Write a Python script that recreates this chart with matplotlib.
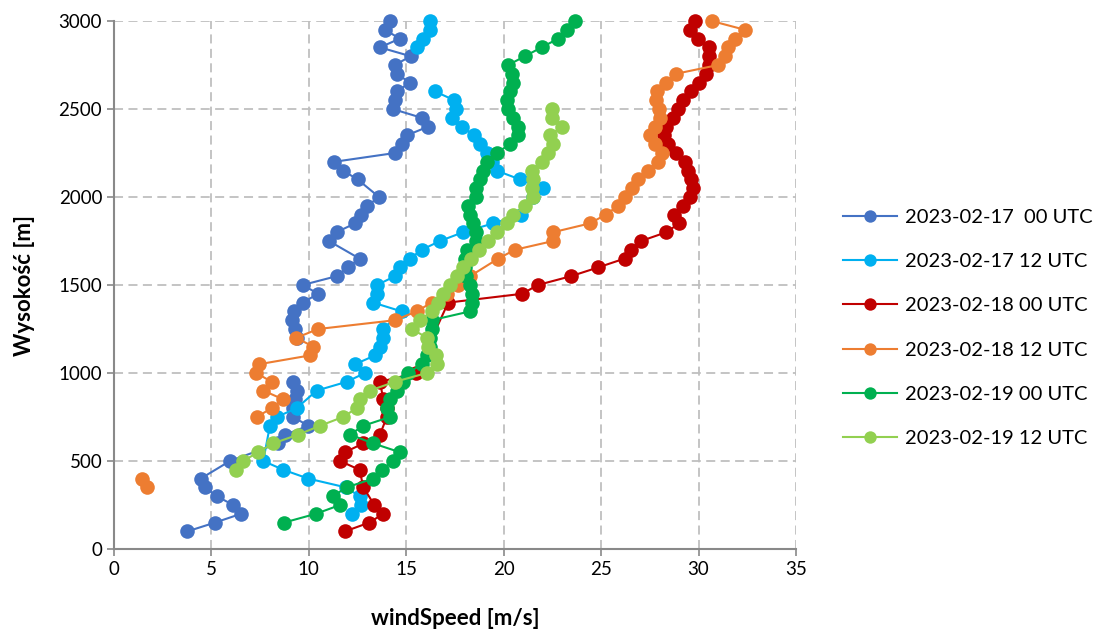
import numpy as np
import matplotlib
matplotlib.use("Agg")
import matplotlib.pyplot as plt

plt.rcParams['font.family'] = ['Lato', 'DejaVu Sans']

nan = np.nan

# Wind speed profiles: heights [m] and speeds [m/s]; NaN marks a missing level
h_17_00 = [100, 150, 200, 250, 300, 350, 400, 500, 600, 650, 700, 750, 800, 850, 900, 950,
           1100, 1200, 1250, 1300, 1350, 1400, 1450, 1500, 1550, 1600, 1650, 1750, 1800, 1850,
           1900, 1950, 2000, 2100, 2150, 2200, 2250, 2300, 2350, 2400, 2450, 2500, 2550,
           2600, 2650, 2700, 2750, 2800, 2850, 2900, 2950, 3000]
v_17_00 = [3.76, 5.18, 6.52, 6.12, 5.27, 4.67, 4.45, 5.95, 8.43, 8.8, 9.97, 9.2, 9.2, 9.29,
           9.37, 9.2, nan, 9.37, 9.29, 9.12, 9.25, 9.68, 10.48, 9.68, 11.42, 12.0, 12.6, 11.03,
           11.42, 12.37, 12.7, 13.0, 13.6, 12.5, 11.75, 11.3, 14.42, 14.76, 15.02, 16.13,
           15.79, 14.3, 14.42, 14.5, 15.19, 14.5, 14.42, 15.22, 13.65, 14.67, 13.9, 14.16]

h_17_12 = [200, 250, 300, 350, 400, 450, 500, 700, 750, 800, 900, 950, 1000, 1050, 1100,
           1150, 1200, 1250, 1350, 1400, 1450, 1500, 1550, 1600, 1650, 1700, 1750, 1800,
           1850, 1900, 2000, 2050, 2100, 2150, 2200, 2250, 2300, 2350, 2400, 2450, 2500,
           2550, 2600, 2700, 2850, 2900, 2950, 3000]
v_17_12 = [12.2, 12.7, 12.6, 11.9, 9.97, 8.69, 7.66, 8.0, 8.35, 9.37, 10.4, 11.94, 12.88,
           12.37, 13.4, 13.65, 13.82, 13.82, 14.76, 13.3, 13.48, 13.5, 14.42, 14.67, 15.19,
           15.79, 16.73, 17.92, 19.46, 20.9, 21.52, 22.03, 20.83, 19.63, 19.4, 19.12, 18.78,
           18.49, 17.84, 17.33, 17.55, 17.46, 16.47, nan, 15.53, 15.87, 16.21, 16.21]

h_18_00 = [100, 150, 200, 250, 350, 450, 500, 550, 600, 650, 750, 800, 850, 950, 1000,
           1400, 1450, 1500, 1550, 1600, 1650, 1700, 1750, 1800, 1850, 1900, 1950, 2000,
           2050, 2100, 2150, 2200, 2250, 2300, 2350, 2400, 2450, 2500, 2550, 2600, 2650,
           2700, 2750, 2800, 2850, 2900, 2950, 3000]
v_18_00 = [11.85, 13.1, 13.82, 13.36, 12.8, 12.6, 11.6, 11.85, 12.8, 13.65, 14.0, 14.0,
           13.82, 13.65, 15.5, 17.15, 20.95, 21.75, 23.45, 24.85, 26.2, 26.55, 27.05, 28.35,
           29.0, 28.75, 29.2, 29.55, 29.7, 29.6, 29.45, 29.3, 28.85, 28.45, 28.25, 28.35,
           28.7, 28.95, 29.2, 29.6, 30.0, 30.4, 30.55, 30.55, 30.55, 29.95, 29.55, 29.8]

h_18_12 = [350, 400, 500, 750, 800, 850, 900, 950, 1000, 1050, 1100, 1150, 1200, 1250,
           1300, 1350, 1400, 1450, 1500, 1550, 1650, 1700, 1750, 1800, 1850, 1900, 1950,
           2000, 2050, 2100, 2150, 2200, 2250, 2300, 2350, 2400, 2450, 2500, 2550, 2600,
           2650, 2700, 2750, 2800, 2850, 2900, 2950, 3000]
v_18_12 = [1.71, 1.42, nan, 7.32, 8.09, 8.69, 7.66, 8.09, 7.3, 7.45, 10.06, 10.22, 9.35,
           10.48, 14.42, 15.53, 16.3, 17.07, 17.67, 18.27, 19.72, 20.57, 22.54, 22.54, 24.42,
           25.24, 25.87, 26.22, 26.56, 26.9, 27.41, 27.93, 28.1, 27.76, 27.5, 27.76, 28.0,
           27.95, 27.8, 27.87, 28.35, 28.84, 31.0, 31.35, 31.52, 31.87, 32.38, 30.67]

h_19_00 = [150, 200, 250, 300, 350, 400, 450, 500, 550, 600, 650, 700, 750, 800, 850, 900,
           950, 1000, 1050, 1100, 1150, 1200, 1250, 1300, 1350, 1400, 1450, 1500, 1550, 1600,
           1650, 1700, 1750, 1800, 1850, 1900, 1950, 2000, 2050, 2100, 2150, 2200, 2250,
           2300, 2350, 2400, 2450, 2500, 2550, 2600, 2650, 2700, 2750, 2800, 2850, 2900,
           2950, 3000]
v_19_00 = [8.72, 10.36, 11.6, 11.22, 11.94, 13.3, 13.73, 14.33, 14.67, 13.3, 12.11, 12.79,
           14.16, 14.0, 14.16, 14.5, 14.84, 15.1, 15.79, 16.05, 16.21, 16.21, 16.3, 16.3,
           18.27, 18.35, 18.35, 18.27, 18.06, 18.0, 18.0, 18.1, 18.6, 18.6, 18.44, 18.27,
           18.18, 18.6, 18.6, 18.78, 18.95, 19.12, 19.63, 20.32, 20.75, 20.75, 20.49, 20.23,
           20.15, 20.32, 20.49, 20.4, 20.23, 21.09, 21.94, 22.8, 23.23, 23.65]

h_19_12 = [450, 500, 550, 600, 650, 700, 750, 800, 850, 900, 950, 1000, 1050, 1100, 1150,
           1200, 1250, 1300, 1350, 1400, 1450, 1500, 1550, 1600, 1650, 1700, 1750, 1800,
           1850, 1900, 1950, 2000, 2050, 2100, 2150, 2200, 2250, 2300, 2350, 2400, 2450, 2500]
v_19_12 = [6.26, 6.63, 7.4, 8.17, 9.46, 10.57, 11.75, 12.45, 12.62, 13.13, 14.42, 16.05,
           16.56, 16.52, 16.13, 16.08, 15.27, 15.7, 16.3, 16.64, 16.9, 17.24, 17.58, 17.89,
           18.3, 18.74, 19.2, 19.63, 20.15, 20.49, 21.09, 21.52, 21.43, 21.52, 21.43, 21.94,
           22.28, 22.54, 22.37, 22.97, 22.46, 22.46]

labels = ['2023-02-17  00 UTC', '2023-02-17 12 UTC', '2023-02-18 00 UTC',
          '2023-02-18 12 UTC', '2023-02-19 00 UTC', '2023-02-19 12 UTC']
colors = ['#4472C4', '#00B0F0', '#C00000', '#ED7D31', '#00B050', '#92D050']

x_ticks = [0, 5, 10, 15, 20, 25, 30, 35]
y_ticks = [0, 500, 1000, 1500, 2000, 2500, 3000]

series = [(v_17_00, h_17_00), (v_17_12, h_17_12), (v_18_00, h_18_00),
          (v_18_12, h_18_12), (v_19_00, h_19_00), (v_19_12, h_19_12)]

fig = plt.figure(figsize=(11.04, 6.32), dpi=100)
ax = fig.add_axes([114 / 1104, 1 - 549 / 632, 682 / 1104, 528 / 632])

for (v, h), lab, col in zip(series, labels, colors):
    ax.plot(v, h, color=col, lw=1.5, marker='o', markersize=10.5,
            markeredgewidth=0, label=lab, clip_on=False)

ax.set_xlim(0, 35)
ax.set_ylim(0, 3000)
ax.set_xticks(x_ticks)
ax.set_yticks(y_ticks)
ax.tick_params(labelsize=13.5, colors='#000000', length=5, width=1.2)
ax.tick_params(axis='both', color='#898989')

ax.grid(True, color='#BFBFBF', linestyle=(0, (5, 3)), linewidth=1.3)
ax.set_axisbelow(True)
for side in ['top', 'right']:
    ax.spines[side].set_visible(False)
for side in ['left', 'bottom']:
    ax.spines[side].set_color('#898989')
    ax.spines[side].set_linewidth(1.5)

ax.set_xlabel('windSpeed [m/s]', fontsize=16, fontweight='bold', labelpad=22)
ax.set_ylabel('Wysokość [m]', fontsize=16, fontweight='bold', labelpad=17)

fig.legend(loc='center left', bbox_to_anchor=(843 / 1104, 1 - 328 / 632),
           frameon=False, fontsize=14.5, handlelength=2.7, handletextpad=0.4,
           labelspacing=1.35, markerscale=0.85, borderpad=0, borderaxespad=0)

fig.savefig('out.png', dpi=100)
